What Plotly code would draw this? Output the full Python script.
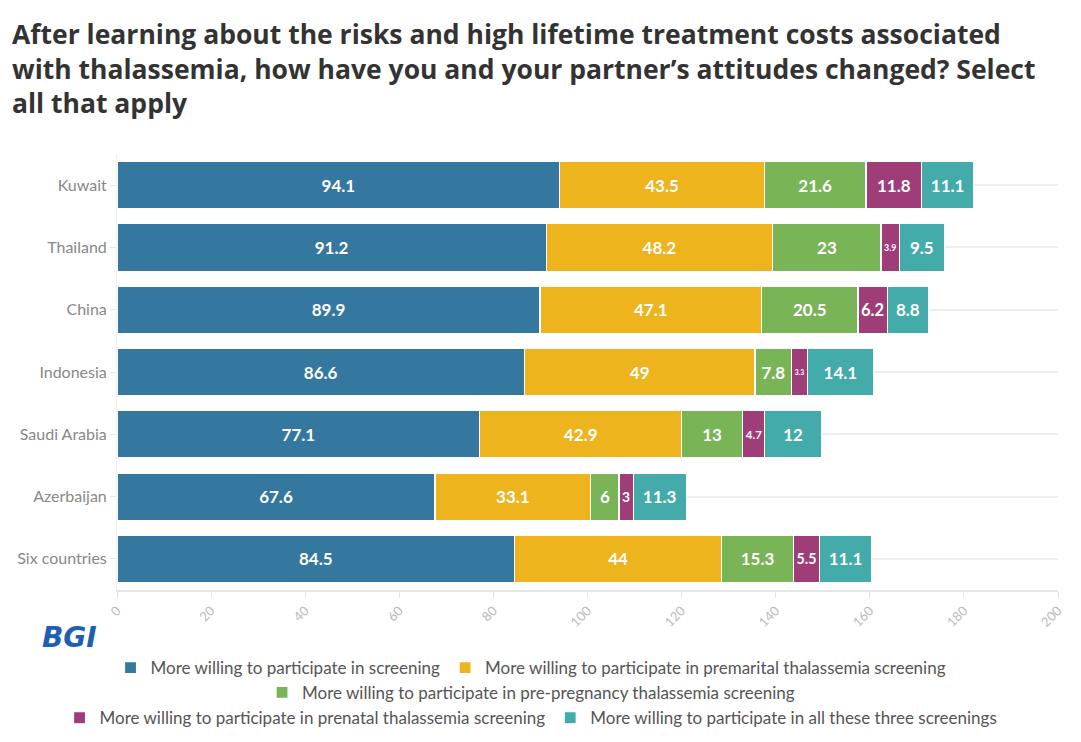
import plotly.graph_objects as go

# data
countries = ["Kuwait", "Thailand", "China", "Indonesia", "Saudi Arabia", "Azerbaijan", "Six countries"]
screening = [94.1, 91.2, 89.9, 86.6, 77.1, 67.6, 84.5]
premarital = [43.5, 48.2, 47.1, 49, 42.9, 33.1, 44]
pre_pregnancy = [21.6, 23, 20.5, 7.8, 13, 6, 15.3]
prenatal = [11.8, 3.9, 6.2, 3.3, 4.7, 3, 5.5]
all_three = [11.1, 9.5, 8.8, 14.1, 12, 11.3, 11.1]

series_names = [
    "More willing to participate in screening",
    "More willing to participate in premarital thalassemia screening",
    "More willing to participate in pre-pregnancy thalassemia screening",
    "More willing to participate in prenatal thalassemia screening",
    "More willing to participate in all these three screenings",
]
series_values = [screening, premarital, pre_pregnancy, prenatal, all_three]
colors = ["#34779F", "#EDB41E", "#79B456", "#9E3D78", "#44ABAB"]
legend_rows = ["legend", "legend", "legend2", "legend3", "legend3"]

x_ticks = list(range(0, 201, 20))

FONT = "Lato"

fig = go.Figure()
for name, vals, col, lg in zip(series_names, series_values, colors, legend_rows):
    fig.add_trace(go.Bar(
        y=countries,
        x=vals,
        name=name,
        orientation="h",
        marker=dict(color=col, line=dict(color="white", width=1.2)),
        text=[f"{v:g}" for v in vals],
        textposition="inside",
        insidetextanchor="middle",
        textangle=0,
        insidetextfont=dict(color="white", size=17, family=FONT, weight="bold"),
        legend=lg,
        hoverinfo="x+y+name",
    ))

# one legend per row so each row can be centred like the original
legend_common = dict(
    orientation="h",
    traceorder="normal",
    xanchor="center",
    x=0.44,
    yanchor="middle",
    font=dict(size=17, color="#555", family=FONT),
    bgcolor="rgba(0,0,0,0)",
    itemclick=False,
    tracegroupgap=0,
)

fig.update_layout(
    barmode="stack",
    bargap=0.24,
    width=1081,
    height=742,
    paper_bgcolor="white",
    plot_bgcolor="white",
    font=dict(family=FONT, color="#555"),
    margin=dict(l=109, r=31, t=146, b=160, autoexpand=False),
    title=dict(
        text="After learning about the risks and high lifetime treatment costs associated<br>"
             "with thalassemia, how have you and your partner\u2019s attitudes changed? Select<br>"
             "all that apply",
        x=0.0037, xanchor="left",
        y=0.951, yanchor="top",
        font=dict(size=26.5, color="#333", family="Open Sans", weight="bold"),
    ),
    xaxis=dict(
        range=[0, 200],
        tickvals=x_ticks,
        tickangle=-45,
        tickfont=dict(size=13, color="#bbb"),
        showgrid=False,
        zeroline=False,
        showline=True,
        linecolor="#e6e6e6",
        linewidth=2,
        ticks="outside",
        ticklen=6,
        tickcolor="#e6e6e6",
    ),
    yaxis=dict(
        categoryorder="array",
        categoryarray=countries,
        autorange="reversed",
        tickfont=dict(size=16, color="#888"),
        showgrid=True,
        gridcolor="#eeeeee",
        gridwidth=2,
        showline=True,
        linecolor="#f0f0f0",
        ticks="outside",
        ticklen=6,
        tickcolor="#e6e6e6",
    ),
    legend=dict(legend_common, y=-0.179),
    legend2=dict(legend_common, y=-0.236),
    legend3=dict(legend_common, y=-0.294),
    annotations=[dict(
        text="<b><i>BGI</i></b>",
        xref="paper", yref="paper",
        x=-0.082, y=-0.110,
        xanchor="left", yanchor="middle",
        showarrow=False,
        font=dict(size=28, color="#1E5FB4", family="DejaVu Sans"),
    )],
)

fig.write_html("out.html")
